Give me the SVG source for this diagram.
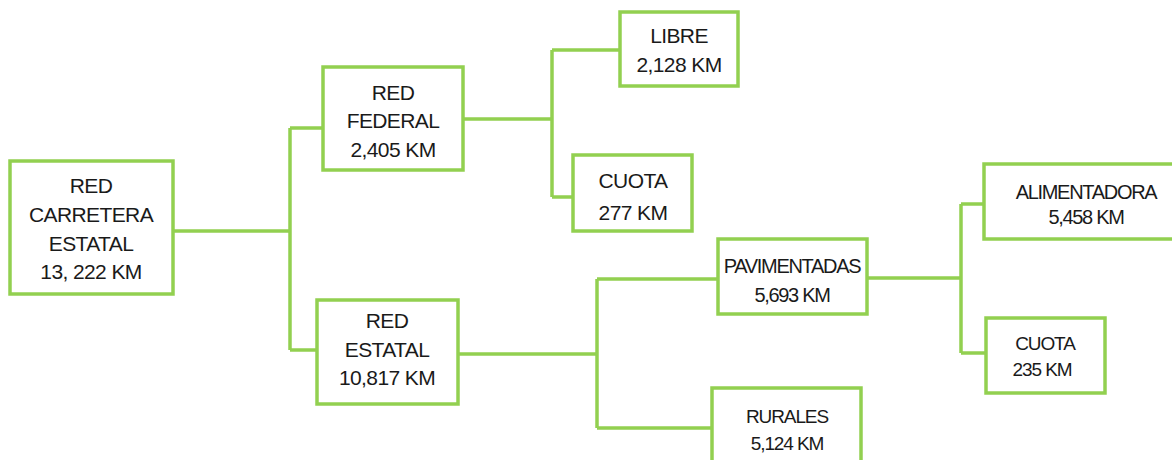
<svg xmlns="http://www.w3.org/2000/svg" width="1172" height="460" viewBox="0 0 1172 460">
<style>
.box{fill:#fff;stroke:#92D050;stroke-width:3.5}
.con{fill:none;stroke:#92D050;stroke-width:3.5}
text{font-family:"Liberation Sans",Arial,sans-serif;fill:#1a1a1a;text-anchor:middle}
.a{font-size:21px;letter-spacing:-0.6px}
.b{font-size:20px;letter-spacing:-1.3px}
.c{font-size:19px;letter-spacing:-1.1px}
</style>
<rect width="1172" height="460" fill="#fff"/>
<g id="connectors">
<path class="con" d="M173,231H290M290,128V350M290,128H323M290,350H317"/>
<path class="con" d="M463,119H552M552,50V197M552,50H620M552,197H573"/>
<path class="con" d="M458,354H597M597,279V428M597,279H718M597,428H712"/>
<path class="con" d="M867,278H961M961,204V353M961,204H984M961,353H986"/>
</g>
<g id="n1"><rect class="box" x="10" y="161" width="163" height="133"/>
<text class="a" x="91" y="193">RED</text><text class="a" x="91" y="222">CARRETERA</text><text class="a" x="91" y="251">ESTATAL</text><text class="a" x="91" y="279">13, 222 KM</text></g>
<g id="n2"><rect class="box" x="323" y="67" width="140" height="103"/>
<text class="a" x="393" y="100">RED</text><text class="a" x="393" y="128">FEDERAL</text><text class="a" x="393" y="157">2,405 KM</text></g>
<g id="n3"><rect class="box" x="620" y="12" width="118" height="74"/>
<text class="a" x="679" y="43">LIBRE</text><text class="a" x="679" y="72">2,128 KM</text></g>
<g id="n4"><rect class="box" x="573" y="155" width="119" height="76"/>
<text class="a" x="633" y="188">CUOTA</text><text class="a" x="633" y="220">277 KM</text></g>
<g id="n5"><rect class="box" x="317" y="300" width="141" height="104"/>
<text class="a" x="387" y="328">RED</text><text class="a" x="387" y="357">ESTATAL</text><text class="a" x="387" y="385">10,817 KM</text></g>
<g id="n6"><rect class="box" x="718" y="239" width="149" height="75"/>
<text class="b" x="792" y="273">PAVIMENTADAS</text><text class="b" x="792" y="302">5,693 KM</text></g>
<g id="n7"><rect class="box" x="984" y="164" width="200" height="75"/>
<text class="b" x="1086" y="199">ALIMENTADORA</text><text class="b" x="1086" y="224">5,458 KM</text></g>
<g id="n8"><rect class="box" x="986" y="318" width="119" height="75"/>
<text class="c" x="1045" y="350">CUOTA</text><text class="c" x="1042" y="376">235 KM</text></g>
<g id="n9"><rect class="box" x="712" y="388" width="149" height="100"/>
<text class="c" x="787" y="423">RURALES</text><text class="c" x="787" y="450">5,124 KM</text></g>
</svg>
